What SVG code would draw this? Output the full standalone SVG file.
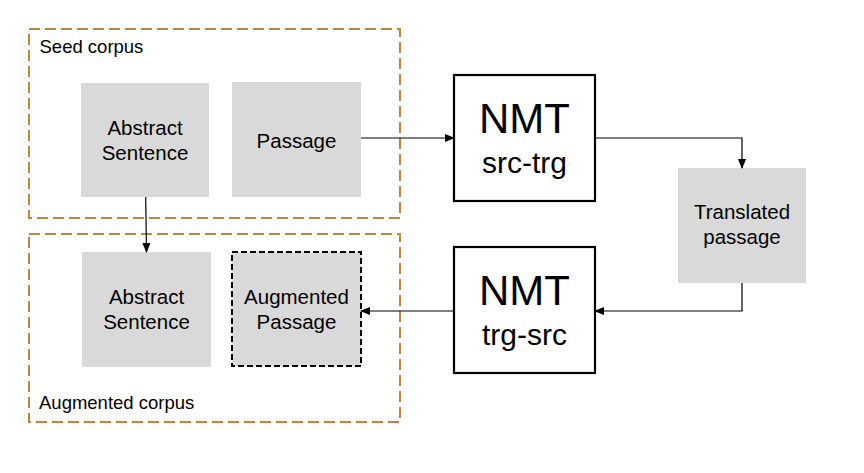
<svg xmlns="http://www.w3.org/2000/svg" width="864" height="473" viewBox="0 0 864 473">
<style>
.corpus{fill:none;stroke:#C0843A;stroke-width:2;stroke-dasharray:11 5}
.grey{fill:#D9D9D9;stroke:none}
.nmt{fill:#fff;stroke:#000;stroke-width:2.2}
.t{font-family:"Liberation Sans",Arial,sans-serif;fill:#000;text-anchor:middle}
.lbl{font-family:"Liberation Sans",Arial,sans-serif;fill:#000;font-size:18.5px}
.box{font-size:20.5px}
.conn{fill:none;stroke:#000;stroke-width:1.2}
</style>
<defs>
<marker id="arr" markerWidth="10" markerHeight="8" refX="9" refY="4" orient="auto" markerUnits="userSpaceOnUse">
<path d="M0,0 L10,4 L0,8 Z" fill="#000"/>
</marker>
</defs>
<rect width="864" height="473" fill="#fff"/>
<g id="seed-corpus">
<rect class="corpus" x="29" y="29" width="371" height="189"/>
<text class="lbl" x="39.5" y="53">Seed corpus</text>
</g>
<g id="augmented-corpus">
<rect class="corpus" x="29" y="234" width="371" height="188"/>
<text class="lbl" x="39" y="409">Augmented corpus</text>
</g>
<g id="abstract-seed">
<rect class="grey" x="81" y="83" width="128" height="114"/>
<text class="t box" x="145" y="135">Abstract</text>
<text class="t box" x="145" y="160">Sentence</text>
</g>
<g id="passage">
<rect class="grey" x="232" y="82" width="129" height="115"/>
<text class="t box" x="296.5" y="148">Passage</text>
</g>
<g id="abstract-aug">
<rect class="grey" x="82" y="252" width="129" height="115"/>
<text class="t box" x="146.5" y="304">Abstract</text>
<text class="t box" x="146.5" y="329">Sentence</text>
</g>
<g id="augmented-passage">
<rect x="232" y="252" width="129" height="114" fill="#D9D9D9" stroke="#000" stroke-width="2" stroke-dasharray="6 3"/>
<text class="t box" x="296.5" y="304">Augmented</text>
<text class="t box" x="296.5" y="329">Passage</text>
</g>
<g id="nmt-src-trg">
<rect class="nmt" x="454" y="75" width="141" height="126"/>
<text class="t" x="524.5" y="133" font-size="42">NMT</text>
<text class="t" x="524.5" y="173" font-size="30">src-trg</text>
</g>
<g id="nmt-trg-src">
<rect class="nmt" x="454" y="247" width="141" height="126"/>
<text class="t" x="524.5" y="305" font-size="42">NMT</text>
<text class="t" x="524.5" y="345" font-size="30">trg-src</text>
</g>
<g id="translated-passage">
<rect class="grey" x="678" y="168" width="128" height="115"/>
<text class="t box" x="742" y="219">Translated</text>
<text class="t box" x="742" y="244">passage</text>
</g>
<g id="connectors">
<path class="conn" d="M361,138 H454" marker-end="url(#arr)"/>
<path class="conn" d="M595,138 H742 V168" marker-end="url(#arr)"/>
<path class="conn" d="M742,283 V311 H595" stroke="#555" marker-end="url(#arr)"/>
<path class="conn" d="M454,311 H361" marker-end="url(#arr)"/>
<path class="conn" d="M145.7,197 L146.5,252" marker-end="url(#arr)"/>
</g>
</svg>
